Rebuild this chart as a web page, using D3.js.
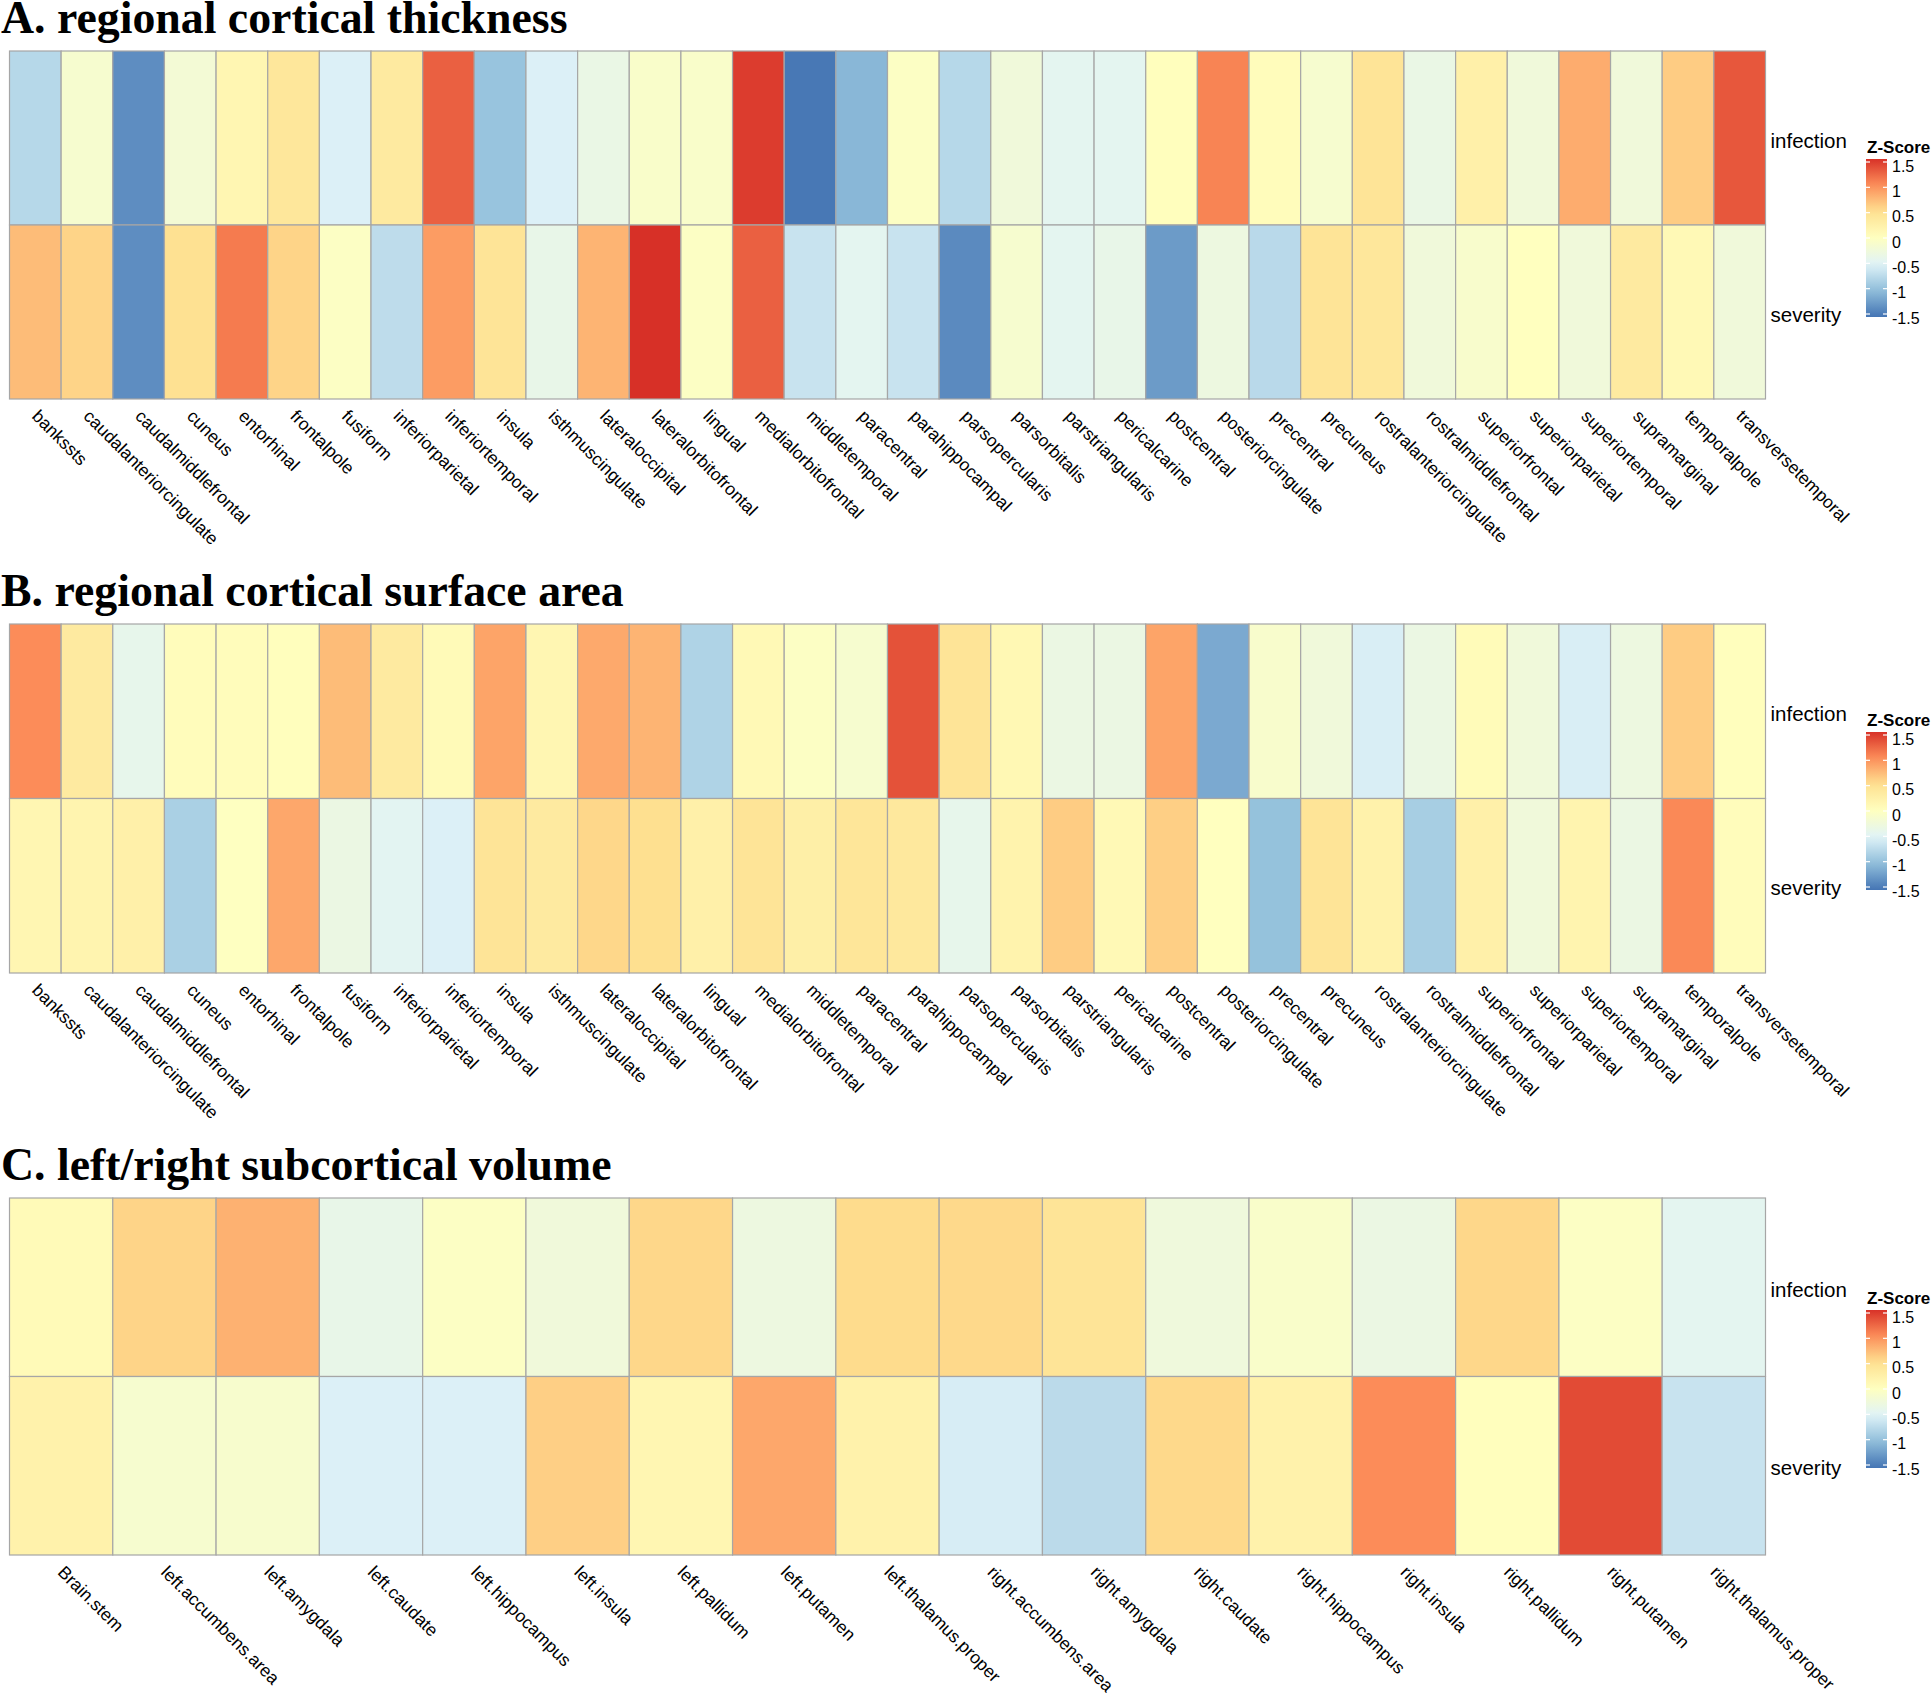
<!DOCTYPE html>
<html>
<head>
<meta charset="utf-8">
<script src="https://cdn.jsdelivr.net/npm/d3@7"></script>
<style>
  html, body { margin: 0; padding: 0; background: #fff; }
  svg { display: block; }
</style>
</head>
<body>
<svg id="chart" width="1931" height="1694"></svg>
<script>
// ---------------- DATA ----------------
const rowNames = ["infection", "severity"];

const corticalRegions = ["bankssts","caudalanteriorcingulate","caudalmiddlefrontal","cuneus","entorhinal","frontalpole","fusiform","inferiorparietal","inferiortemporal","insula","isthmuscingulate","lateraloccipital","lateralorbitofrontal","lingual","medialorbitofrontal","middletemporal","paracentral","parahippocampal","parsopercularis","parsorbitalis","parstriangularis","pericalcarine","postcentral","posteriorcingulate","precentral","precuneus","rostralanteriorcingulate","rostralmiddlefrontal","superiorfrontal","superiorparietal","superiortemporal","supramarginal","temporalpole","transversetemporal"];

const thicknessInfection = [-0.8,-0.15,-1.4,-0.2,0.15,0.4,-0.55,0.35,1.3,-1.0,-0.55,-0.35,-0.1,-0.1,1.5,-1.55,-1.1,-0.05,-0.8,-0.25,-0.45,-0.45,0.02,1.1,0.05,-0.15,0.45,-0.35,0.25,-0.25,0.85,-0.25,0.65,1.35];
const thicknessSeverity  = [0.75,0.6,-1.4,0.5,1.15,0.6,-0.05,-0.75,0.95,0.45,-0.38,0.8,1.57,-0.05,1.3,-0.68,-0.45,-0.68,-1.42,-0.15,-0.45,-0.38,-1.3,-0.3,-0.78,0.45,0.4,-0.25,-0.12,0.0,-0.25,0.35,0.1,-0.25];

const areaInfection = [1.05,0.35,-0.4,0.05,0.05,0.02,0.75,0.35,0.08,0.9,0.15,0.87,0.8,-0.85,0.1,-0.05,-0.15,1.38,0.45,0.12,-0.33,-0.33,0.9,-1.2,-0.12,-0.25,-0.57,-0.33,0.07,-0.25,-0.57,-0.3,0.65,0.02];
const areaSeverity  = [0.15,0.18,0.25,-0.88,-0.02,0.88,-0.33,-0.47,-0.55,0.45,0.35,0.58,0.52,0.25,0.45,0.27,0.42,0.38,-0.4,0.2,0.65,0.1,0.63,0.0,-1.02,0.45,0.22,-0.9,0.25,-0.25,0.18,-0.33,1.07,0.05];

const subcorticalRegions = ["Brain.stem","left.accumbens.area","left.amygdala","left.caudate","left.hippocampus","left.insula","left.pallidum","left.putamen","left.thalamus.proper","right.accumbens.area","right.amygdala","right.caudate","right.hippocampus","right.insula","right.pallidum","right.putamen","right.thalamus.proper"];
const volumeInfection = [0.08,0.6,0.82,-0.38,-0.05,-0.25,0.58,-0.3,0.55,0.57,0.45,-0.27,-0.1,-0.33,0.58,-0.05,-0.45];
const volumeSeverity  = [0.22,-0.15,-0.13,-0.55,-0.55,0.63,0.15,0.88,0.22,-0.58,-0.77,0.57,0.22,1.05,0.02,1.42,-0.68];

const legendTicks = [1.5, 1, 0.5, 0, -0.5, -1, -1.5];
const legendTitle = "Z-Score";
const paletteColors = ["#4575B4","#91BFDB","#E0F3F8","#FFFFBF","#FEE090","#FC8D59","#D73027"];

// ---------------- LAYOUT ----------------
const panels = [
  { title: "A. regional cortical thickness", cats: corticalRegions, rows: [thicknessInfection, thicknessSeverity], top: 51, h: 348, titleY: 33, legOff: 0 },
  { title: "B. regional cortical surface area", cats: corticalRegions, rows: [areaInfection, areaSeverity], top: 624, h: 349, titleY: 606, legOff: 0 },
  { title: "C. left/right subcortical volume", cats: subcorticalRegions, rows: [volumeInfection, volumeSeverity], top: 1198, h: 357, titleY: 1180, legOff: 4 }
];

const LEFT = 9.5, RIGHT = 1765.5;
const zmax = 1.57;
const color = d3.scaleLinear()
  .domain(d3.range(7).map(i => -zmax + i * (2 * zmax) / 6))
  .range(paletteColors)
  .interpolate(d3.interpolateRgb)
  .clamp(true);

const svg = d3.select("#chart");
const defs = svg.append("defs");
const grad = defs.append("linearGradient").attr("id", "zgrad")
  .attr("x1", 0).attr("x2", 0).attr("y1", 1).attr("y2", 0);
d3.range(0, 1.0001, 0.05).forEach(t => {
  grad.append("stop").attr("offset", t).attr("stop-color", color(-1.58 + t * (1.56 + 1.58)));
});

panels.forEach(p => {
  const g = svg.append("g");
  // title
  g.append("text")
    .attr("x", 1).attr("y", p.titleY)
    .attr("font-family", "Liberation Serif, Times New Roman, serif")
    .attr("font-weight", "bold")
    .attr("font-size", 45.8)
    .attr("fill", "#000")
    .text(p.title);

  const x = d3.scaleBand().domain(p.cats).range([LEFT, RIGHT]).padding(0);
  const y = d3.scaleBand().domain(rowNames).range([p.top, p.top + p.h]).padding(0);

  const cells = [];
  rowNames.forEach((r, ri) => p.cats.forEach((c, ci) => cells.push({ r, c, v: p.rows[ri][ci] })));

  g.selectAll("rect.cell").data(cells).enter().append("rect")
    .attr("class", "cell")
    .attr("x", d => x(d.c)).attr("y", d => y(d.r))
    .attr("width", x.bandwidth()).attr("height", y.bandwidth())
    .attr("fill", d => color(d.v))
    .attr("stroke", "#a6a6a6").attr("stroke-width", 1.2);

  // row labels
  g.selectAll("text.row").data(rowNames).enter().append("text")
    .attr("x", RIGHT + 5)
    .attr("y", d => y(d) + y.bandwidth() / 2 + 3)
    .attr("dy", "0.32em")
    .attr("font-family", "Liberation Sans, Arial, sans-serif")
    .attr("font-size", 20.5)
    .text(d => d);

  // column labels
  const bottom = p.top + p.h;
  g.selectAll("text.col").data(p.cats).enter().append("text")
    .attr("transform", d => `translate(${x(d) + x.bandwidth() / 2},${bottom + 14}) rotate(45)`)
    .attr("dy", "0.35em")
    .attr("text-anchor", "start")
    .attr("font-family", "Liberation Sans, Arial, sans-serif")
    .attr("font-size", 17.6)
    .text(d => d);

  // legend
  const lt = p.top + p.legOff;
  const lx = 1866, lw = 21;
  const barTop = lt + 108, barBot = lt + 266;
  const ls = d3.scaleLinear().domain([-1.5, 1.5]).range([lt + 263, lt + 111]);
  g.append("text")
    .attr("x", lx + 1).attr("y", lt + 102)
    .attr("font-family", "Liberation Sans, Arial, sans-serif")
    .attr("font-weight", "bold").attr("font-size", 17)
    .text(legendTitle);
  g.append("rect")
    .attr("x", lx).attr("y", barTop).attr("width", lw).attr("height", barBot - barTop)
    .attr("fill", "url(#zgrad)");
  const tg = g.selectAll("g.tick").data(legendTicks).enter().append("g");
  tg.append("line").attr("x1", lx).attr("x2", lx + 4)
    .attr("y1", d => ls(d)).attr("y2", d => ls(d))
    .attr("stroke", "#fff").attr("stroke-width", 1.2);
  tg.append("line").attr("x1", lx + lw - 4).attr("x2", lx + lw)
    .attr("y1", d => ls(d)).attr("y2", d => ls(d))
    .attr("stroke", "#fff").attr("stroke-width", 1.2);
  tg.append("text")
    .attr("x", lx + lw + 5).attr("y", d => ls(d) + 4).attr("dy", "0.36em")
    .attr("font-family", "Liberation Sans, Arial, sans-serif")
    .attr("font-size", 16)
    .text(d => d);
});
</script>
</body>
</html>
